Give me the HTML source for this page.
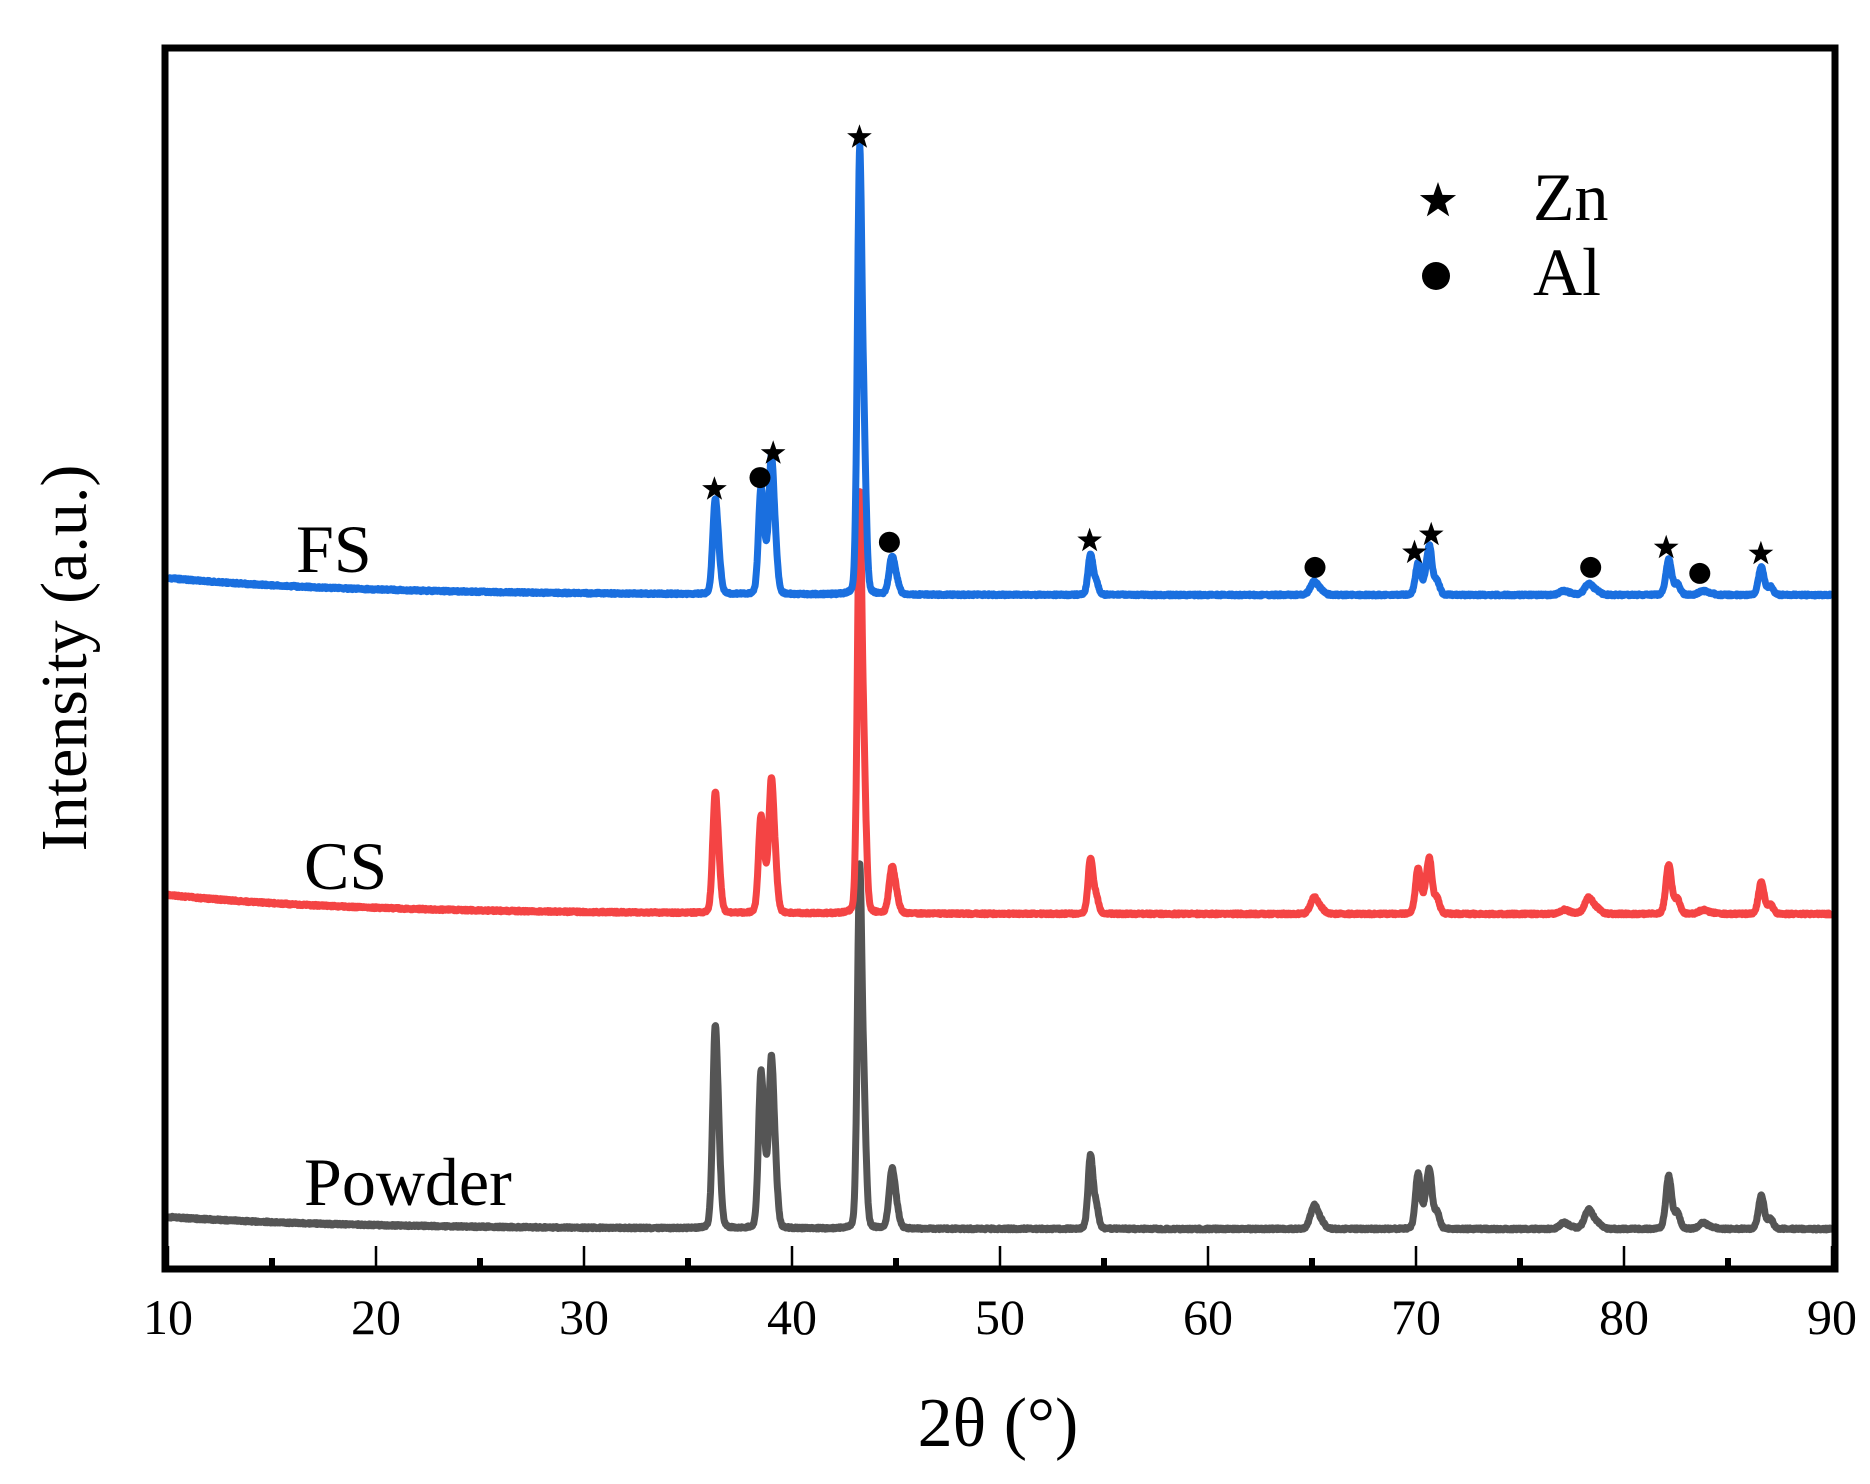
<!DOCTYPE html>
<html><head><meta charset="utf-8"><style>
html,body{margin:0;padding:0;background:#fff;}
svg{display:block;}
text{font-family:"Liberation Serif",serif;fill:#000;}
</style></head><body>
<svg id="s" width="1870" height="1484" viewBox="0 0 1870 1484" xmlns="http://www.w3.org/2000/svg">
<rect width="1870" height="1484" fill="#fff"/>
<g id="series" fill="none" stroke-width="7" stroke-linejoin="round"></g>
<rect x="165" y="48" width="1670" height="1221" fill="none" stroke="#000" stroke-width="7"/>
<g id="ticks" stroke="#000"></g>
<g font-size="50" text-anchor="middle">
<text x="168" y="1334">10</text><text x="376" y="1334">20</text><text x="584" y="1334">30</text><text x="792" y="1334">40</text><text x="1000" y="1334">50</text><text x="1208" y="1334">60</text><text x="1416" y="1334">70</text><text x="1624" y="1334">80</text><text x="1832" y="1334">90</text>
</g>
<text x="998" y="1446" font-size="70" text-anchor="middle">2θ (°)</text>
<text transform="translate(86,658) rotate(-90)" font-size="66" text-anchor="middle">Intensity (a.u.)</text>
<text x="296" y="572" font-size="68">FS</text>
<text x="304" y="889" font-size="68">CS</text>
<text x="304" y="1205" font-size="68">Powder</text>
<text x="1533" y="220" font-size="68">Zn</text>
<text x="1533" y="295" font-size="68">Al</text>
<g id="marks"></g>
</svg>
<script>
var X=function(t){return 168+(t-10)*20.8;};
var peaks=[36.3,38.5,39.0,43.25,44.8,54.35,65.1,70.1,70.65,77.1,78.3,82.15,83.8,86.6];
var wid=[0.12,0.12,0.12,0.11,0.14,0.12,0.18,0.13,0.13,0.2,0.2,0.14,0.2,0.14];
var S=[
 {c:"#555555",start:1217,flat:1229,h:[188,146,160,355,56,74,23,56,55,6,19,54,6,34]},
 {c:"#f44444",start:895,flat:914,h:[112,91,126,410,44,56,16,46,52,4,16,50,4,32]},
 {c:"#1a6fdf",start:578,flat:595,h:[88,100,130,436,36,41,13,32,47,4,11,36,4,28]}
];
var ns="http://www.w3.org/2000/svg",g=document.getElementById("series");
S.forEach(function(s){
 var d="";
 for(var t=10;t<=90.001;t+=0.02){
  var y=s.flat+(s.start-s.flat)*Math.exp(-(t-10)/9);
  for(var i=0;i<peaks.length;i++){
   var dx=t-peaks[i],w=wid[i];
   var v=0.85*Math.exp(-dx*dx/(2*w*w))+0.15/(1+dx*dx/(w*w));
   var p2=peaks[i]+0.005*peaks[i];var dx2=t-p2;
   v+=0.3*(0.85*Math.exp(-dx2*dx2/(2*w*w))+0.15/(1+dx2*dx2/(w*w)));
   y-=s.h[i]*v/1.02;
  }
  y+=(Math.random()-0.5)*2;
  d+=(d?"L":"M")+X(t).toFixed(1)+" "+y.toFixed(1);
 }
 var p=document.createElementNS(ns,"path");p.setAttribute("d",d);p.setAttribute("stroke",s.c);g.appendChild(p);
});
var tk=document.getElementById("ticks"),h="";
for(var t=10;t<=90;t+=5){
 var x=X(t);
 if(t%10==0) h+='<line x1="'+x+'" y1="1266" x2="'+x+'" y2="1246" stroke-width="2.5"/>';
 else h+='<line x1="'+x+'" y1="1266" x2="'+x+'" y2="1258" stroke-width="6"/>';
}
tk.innerHTML=h;
var star=function(cx,cy,r){var pts=[];for(var k=0;k<10;k++){var a=-Math.PI/2+k*Math.PI/5;var rr=k%2?r*0.4:r;pts.push((cx+rr*Math.cos(a)).toFixed(1)+","+(cy+rr*Math.sin(a)).toFixed(1));}return '<polygon points="'+pts.join(" ")+'" fill="#000"/>';};
var m="";
[[717,113],[645,377],[596,407],[909,450],[1180,460],[1194,445],[1390,456],[1469,461]].forEach(function(p){m+=star(p[0]*1.1987,p[1]*1.197+2,13);});
[[634,399],[742,453],[1097,474],[1327,474],[1418,479]].forEach(function(p){m+='<circle cx="'+(p[0]*1.1987).toFixed(1)+'" cy="'+(p[1]*1.197).toFixed(1)+'" r="10.5" fill="#000"/>';});
m+=star(1438,201,19);
m+='<circle cx="1436" cy="276" r="14" fill="#000"/>';
document.getElementById("marks").innerHTML=m;
</script>
</body></html>
